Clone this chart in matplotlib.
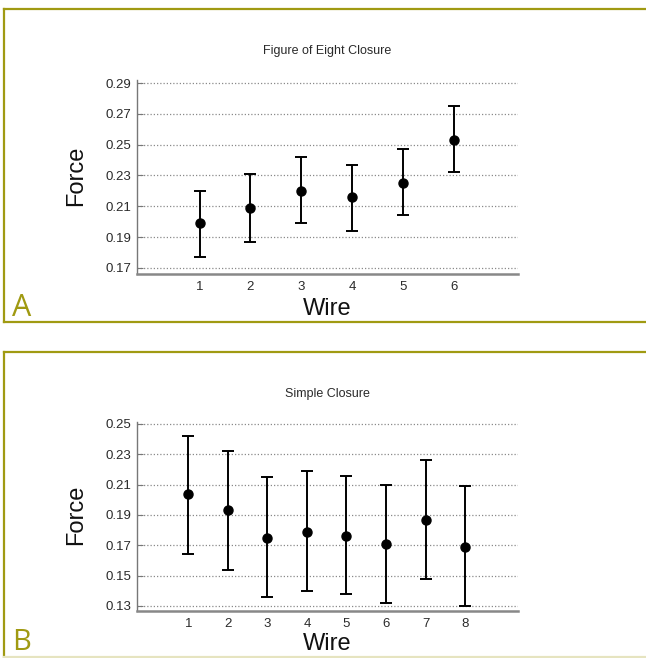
import numpy as np
import matplotlib
matplotlib.use('Agg')
import matplotlib.pyplot as plt
from matplotlib.lines import Line2D

# values
wires_a = [1, 2, 3, 4, 5, 6]
force_a = [0.199, 0.209, 0.220, 0.216, 0.225, 0.253]
upper_a = [0.220, 0.231, 0.242, 0.237, 0.247, 0.275]
lower_a = [0.177, 0.187, 0.199, 0.194, 0.204, 0.232]
yticks_a = [0.17, 0.19, 0.21, 0.23, 0.25, 0.27, 0.29]

wires_b = [1, 2, 3, 4, 5, 6, 7, 8]
force_b = [0.204, 0.193, 0.175, 0.179, 0.176, 0.171, 0.187, 0.169]
upper_b = [0.242, 0.232, 0.215, 0.219, 0.216, 0.210, 0.226, 0.209]
lower_b = [0.164, 0.154, 0.136, 0.140, 0.138, 0.132, 0.148, 0.130]
yticks_b = [0.13, 0.15, 0.17, 0.19, 0.21, 0.23, 0.25]

W, H = 646, 658
OLIVE = '#a09a12'
plt.rcParams['font.family'] = ['Liberation Sans', 'DejaVu Sans']

fig = plt.figure(figsize=(W / 100, H / 100), dpi=100)


def fx(x):
    return x / W


def fy(y):
    return 1 - y / H


def panel(rect_px, wires, force, lower, upper, yticks, xlim, ylim, title, title_y, wire_y, force_y):
    left, top, right, bottom = rect_px
    ax = fig.add_axes([fx(left), fy(bottom), fx(right - left), (bottom - top) / H])
    force = np.array(force)
    yerr = [force - np.array(lower), np.array(upper) - force]
    ax.errorbar(wires, force, yerr=yerr, fmt='o', color='black', ms=6.5,
                elinewidth=1.4, capsize=4, capthick=1.4, zorder=3)
    ax.set_xlim(*xlim)
    ax.set_ylim(*ylim)
    ax.set_xticks(wires)
    ax.set_yticks(yticks)
    ax.set_yticklabels([f'{t:.2f}' for t in yticks])
    ax.grid(axis='y', color='#8a8a8a', linestyle=(0, (1, 1.6)), linewidth=0.9)
    for s in ['top', 'right']:
        ax.spines[s].set_visible(False)
    ax.spines['left'].set_color('#777777')
    ax.spines['left'].set_linewidth(1.0)
    ax.spines['bottom'].set_color('#888888')
    ax.spines['bottom'].set_linewidth(1.8)
    ax.tick_params(axis='y', direction='in', length=4, width=0.8, color='#777777',
                   labelsize=9.5, pad=4, labelcolor='#2a2a2a')
    ax.tick_params(axis='x', length=0, labelsize=9.5, pad=5, labelcolor='#2a2a2a')
    fig.text(fx(327), fy(title_y), title, ha='center', va='center', fontsize=9, color='#2a2a2a')
    fig.text(fx(327), fy(wire_y), 'Wire', ha='center', va='center', fontsize=17, color='#111111')
    fig.text(fx(76), fy(force_y), 'Force', ha='center', va='center', rotation=90,
             fontsize=17, color='#111111')
    return ax


panel((137, 80, 518, 274), wires_a, force_a, lower_a, upper_a, yticks_a,
      (-0.23, 7.26), (0.166, 0.292), 'Figure of Eight Closure', 51, 309, 176)
panel((137, 422, 518, 611), wires_b, force_b, lower_b, upper_b, yticks_b,
      (-0.30, 9.34), (0.1267, 0.2513), 'Simple Closure', 394, 644, 515)

# olive frames round the two panels
for top, bottom, bcol in [(8.5, 322.3, OLIVE), (351.7, 656.5, '#e6e4c0')]:
    fig.add_artist(Line2D([fx(4), 1.01], [fy(top), fy(top)], color=OLIVE, lw=1.6,
                          transform=fig.transFigure))
    fig.add_artist(Line2D([fx(4), fx(4)], [fy(top), fy(bottom)], color=OLIVE, lw=1.6,
                          transform=fig.transFigure))
    fig.add_artist(Line2D([fx(4), 1.01], [fy(bottom), fy(bottom)], color=bcol, lw=1.6,
                          transform=fig.transFigure))

fig.text(fx(12), fy(316), 'A', ha='left', va='baseline', fontsize=22, color=OLIVE,
         family=['Open Sans', 'DejaVu Sans'])
fig.text(fx(12), fy(657.5), 'B', ha='left', va='bottom', fontsize=21, color=OLIVE,
         family=['Open Sans', 'DejaVu Sans'])

fig.savefig('out.png', dpi=100)
